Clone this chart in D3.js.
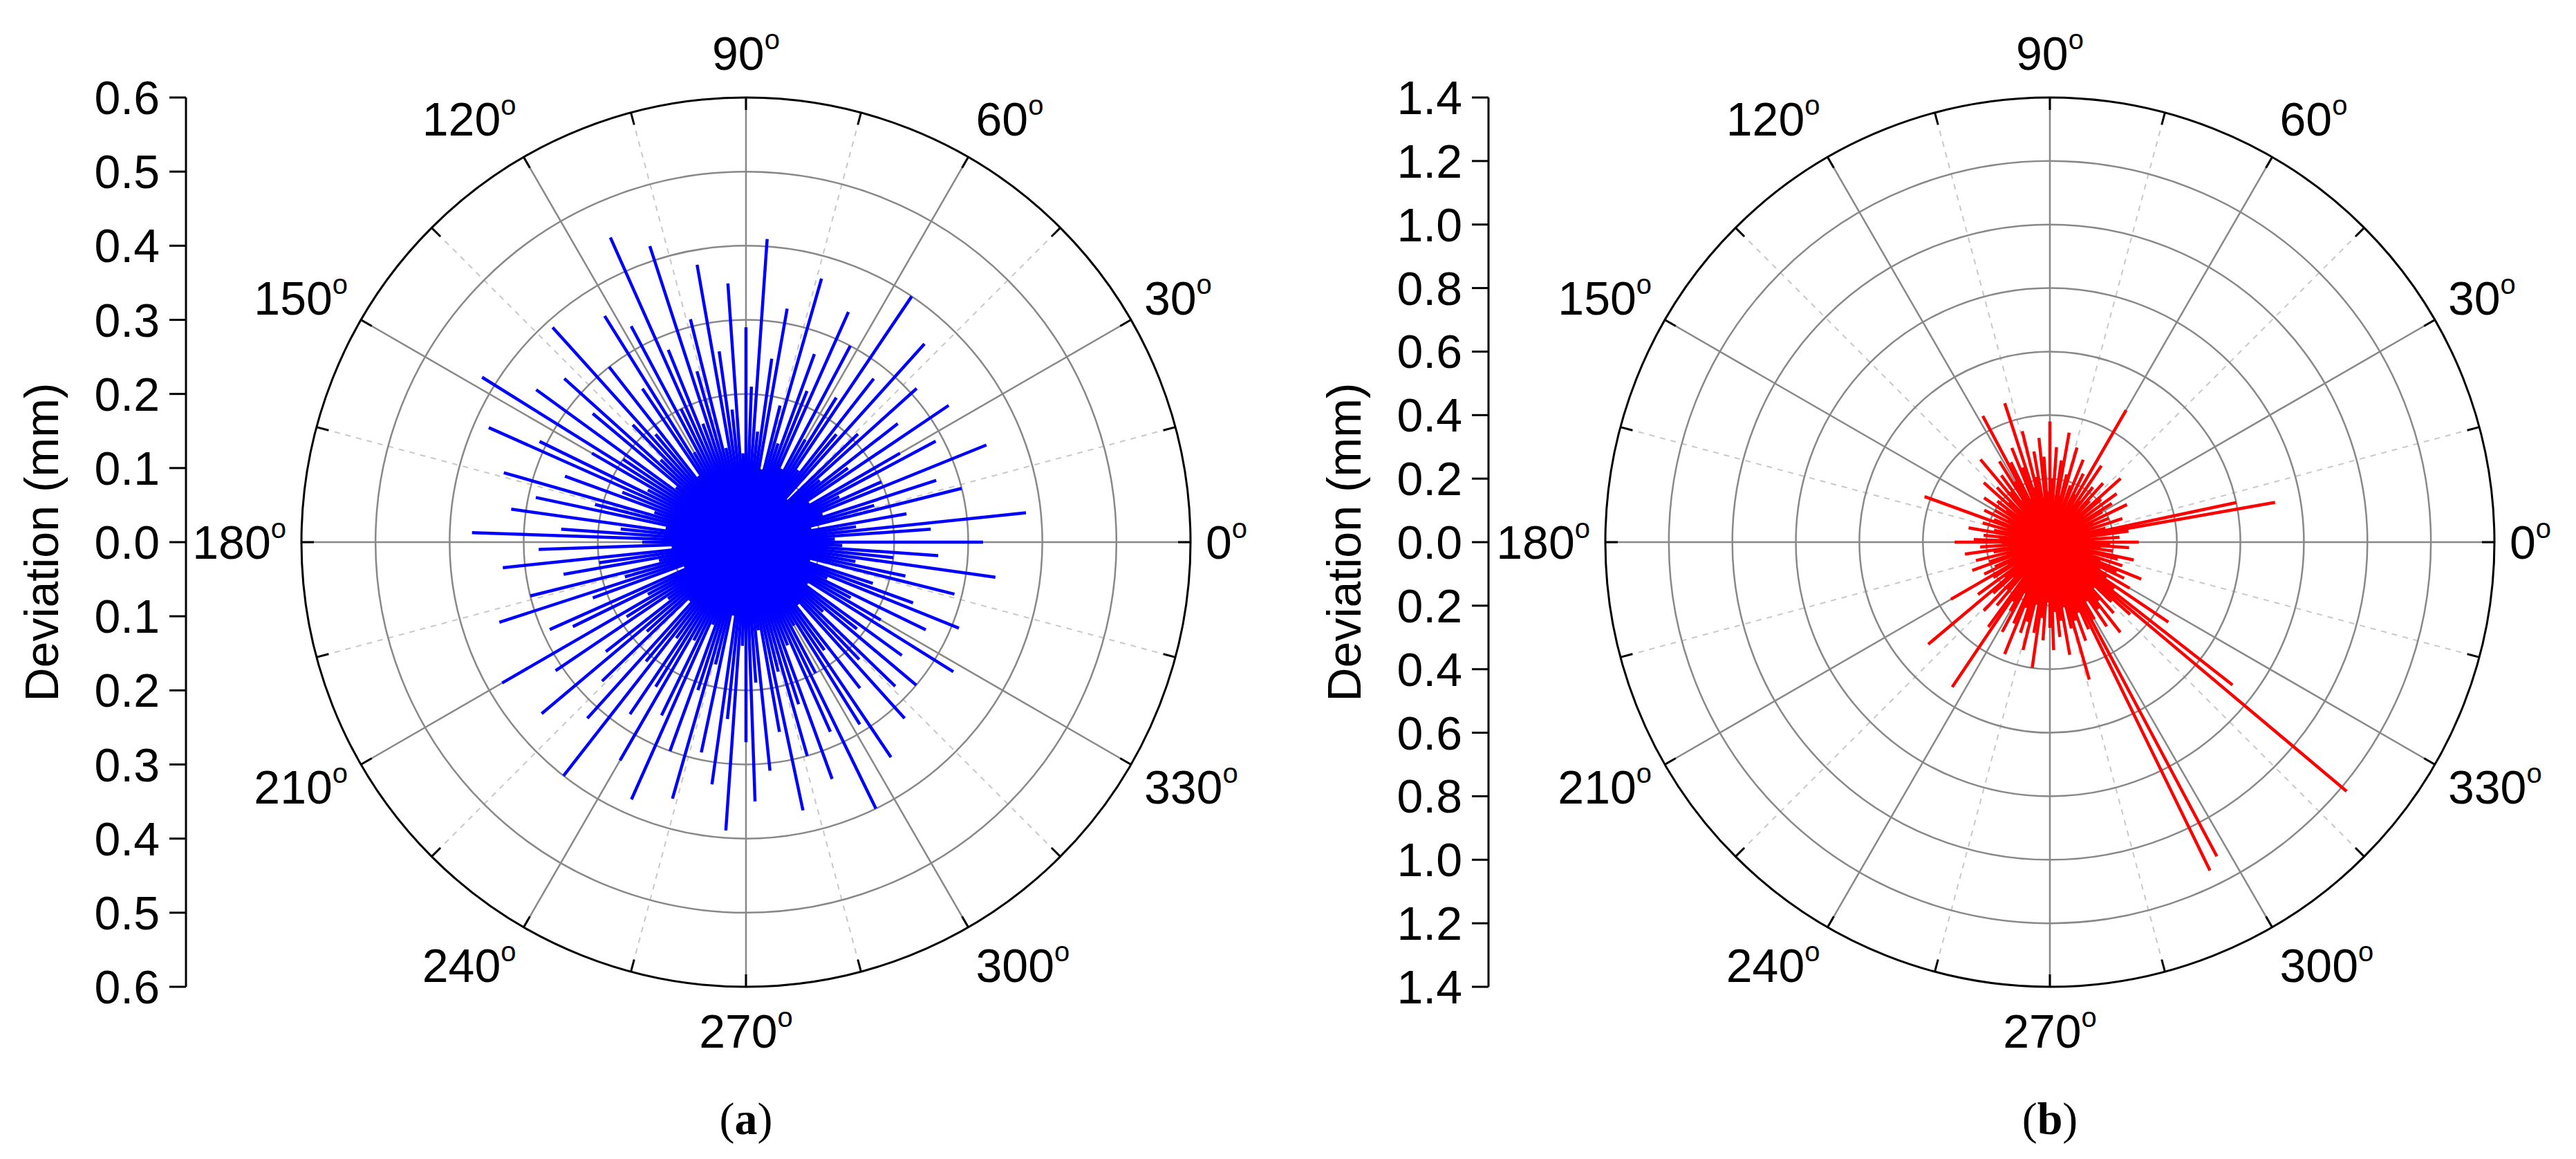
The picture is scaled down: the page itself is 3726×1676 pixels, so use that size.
<!DOCTYPE html>
<html><head><meta charset="utf-8">
<script src="https://cdn.jsdelivr.net/npm/d3@7"></script>
<style>body{margin:0;background:#fff}</style></head>
<body><svg id="c" width="3726" height="1676"></svg>
<script>
const angleLabels=[0,30,60,90,120,150,180,210,240,270,300,330];
const ticksA=[0.6,0.5,0.4,0.3,0.2,0.1,0.0,0.1,0.2,0.3,0.4,0.5,0.6];
const ticksB=[1.4,1.2,1.0,0.8,0.6,0.4,0.2,0.0,0.2,0.4,0.6,0.8,1.0,1.2,1.4];
const anglesDeg=d3.range(0,360,2);
const devA=[.32,.12,.25,.38,.15,.22,.09,.30,.18,.27,.11,.35,.20,.14,.29,.24,.10,.33,.17,.26,.13,.31,.21,.08,.36,.19,.28,.12,.40,.23,
.16,.30,.11,.34,.22,.27,.14,.37,.19,.10,.32,.25,.15,.41,.21,.29,.12,.35,.18,.26,.38,.13,.31,.24,.42,.17,.28,.45,.20,.33,
.14,.36,.25,.11,.30,.19,.39,.22,.16,.33,.27,.12,.35,.20,.42,.24,.15,.31,.38,.18,.26,.13,.34,.21,.29,.11,.32,.17,.25,.37,
.14,.28,.10,.33,.20,.25,.12,.30,.17,.35,.22,.09,.29,.26,.15,.38,.19,.31,.13,.24,.36,.18,.27,.11,.32,.21,.40,.16,.28,.23,
.34,.15,.26,.38,.12,.30,.21,.36,.17,.29,.10,.33,.24,.39,.14,.27,.35,.19,.31,.12,.26,.37,.18,.30,.23,.34,.15,.28,.40,.20,
.13,.29,.35,.18,.25,.11,.32,.22,.28,.14,.30,.19,.26,.10,.33,.21,.16,.27,.12,.31,.24,.18,.09,.29,.22,.15,.34,.20,.26,.13];
const devB=[.28,.14,.22,.10,.25,.72,.60,.18,.12,.24,.09,.20,.15,.27,.11,.19,.23,.08,.26,.13,.21,.30,.12,.18,.25,.10,.22,.16,.29,.14,
.48,.17,.24,.11,.28,.19,.13,.31,.22,.15,.35,.26,.12,.30,.20,.38,.16,.27,.33,.14,.29,.21,.36,.18,.46,.25,.32,.15,.28,.45,
.22,.30,.16,.26,.20,.34,.13,.24,.18,.28,.12,.21,.17,.25,.11,.20,.15,.23,.10,.19,.42,.14,.22,.12,.18,.26,.13,.21,.16,.24,
.30,.15,.22,.12,.27,.18,.10,.24,.14,.20,.26,.11,.19,.23,.15,.36,.21,.13,.28,.18,.50,.24,.16,.30,.20,.26,.14,.33,.55,.22,
.25,.32,.18,.28,.38,.22,.30,.26,.35,.20,.29,.40,.24,.31,.19,.27,.34,.22,.30,.25,.36,.21,.28,.45,.26,.33,.24,.30,1.15,1.12,
.28,.22,.32,.26,.36,.24,.30,.20,.27,.34,1.22,.73,.25,.45,.21,.29,.18,.26,.23,.31,.17,.24,.14,.22,.27,.12,.20,.16,.25,.19];

const svg=d3.select("#c");
const FONT="Arial, 'Liberation Sans', sans-serif";
const R=643, CY=784;

function panel(cx,axisX,max,step,ticks,data,color,caption){
  const g=svg.append("g");
  const r=d3.scaleLinear().domain([0,max]).range([0,R]);
  const toXY=(deg,v)=>[cx+r(v)*Math.cos(deg*Math.PI/180), CY-r(v)*Math.sin(deg*Math.PI/180)];
  d3.range(15,360,30).forEach(a=>{
    const p=toXY(a,max);
    g.append("line").attr("x1",cx).attr("y1",CY).attr("x2",p[0]).attr("y2",p[1])
     .attr("stroke","#c8c8c8").attr("stroke-width",2).attr("stroke-dasharray","8,8");
  });
  d3.range(0,360,30).forEach(a=>{
    const p=toXY(a,max);
    g.append("line").attr("x1",cx).attr("y1",CY).attr("x2",p[0]).attr("y2",p[1])
     .attr("stroke","#888").attr("stroke-width",2.5);
  });
  d3.range(step,max-1e-9,step).forEach(v=>{
    g.append("circle").attr("cx",cx).attr("cy",CY).attr("r",r(v))
     .attr("fill","none").attr("stroke","#888").attr("stroke-width",2.5);
  });
  g.append("circle").attr("cx",cx).attr("cy",CY).attr("r",r(max))
   .attr("fill","none").attr("stroke","#000").attr("stroke-width",3);
  d3.range(0,360,15).forEach(a=>{
    const p1=toXY(a,max), p2=toXY(a,max*(1-18/R));
    g.append("line").attr("x1",p1[0]).attr("y1",p1[1]).attr("x2",p2[0]).attr("y2",p2[1])
     .attr("stroke","#000").attr("stroke-width",3);
  });
  g.append("g").selectAll("line").data(data).join("line")
   .attr("x1",cx).attr("y1",CY)
   .attr("x2",(d,i)=>toXY(anglesDeg[i],d)[0]).attr("y2",(d,i)=>toXY(anglesDeg[i],d)[1])
   .attr("stroke",color).attr("stroke-width",4.5).attr("stroke-linecap","butt");
  angleLabels.forEach(a=>{
    const c=Math.cos(a*Math.PI/180), s=Math.sin(a*Math.PI/180);
    const p=toXY(a,max*(1+22/R));
    const anchor=c>0.3?"start":(c<-0.3?"end":"middle");
    const dy=24 - s*42;
    const t=g.append("text").attr("x",p[0]).attr("y",p[1]+dy).attr("text-anchor",anchor)
     .attr("font-family",FONT).attr("font-size",68).text(a);
    t.append("tspan").attr("font-size",40).attr("dy",-30).text("o");
  });
  const y=d3.scaleLinear().domain([0,ticks.length-1]).range([CY-R,CY+R]);
  const ax=g.append("g");
  ax.append("line").attr("x1",axisX).attr("x2",axisX).attr("y1",CY-R).attr("y2",CY+R).attr("stroke","#000").attr("stroke-width",3);
  ticks.forEach((t,i)=>{
    ax.append("line").attr("x1",axisX-24).attr("x2",axisX).attr("y1",y(i)).attr("y2",y(i)).attr("stroke","#000").attr("stroke-width",3);
    ax.append("text").attr("x",axisX-38).attr("y",y(i)+24).attr("text-anchor","end")
      .attr("font-family",FONT).attr("font-size",68).text(t.toFixed(1));
  });
  g.append("text").attr("transform",`translate(${axisX-185},${CY}) rotate(-90)`).attr("text-anchor","middle")
   .attr("font-family",FONT).attr("font-size",68).text("Deviation (mm)");
  const cap=g.append("text").attr("x",cx).attr("y",1640).attr("text-anchor","middle")
   .attr("font-family","'Liberation Serif','DejaVu Serif',serif").attr("font-size",66);
  cap.append("tspan").text("(");
  cap.append("tspan").attr("font-weight","bold").text(caption);
  cap.append("tspan").text(")");
}
panel(1079,269,0.6,0.1,ticksA,devA,"#0000ff","a");
panel(2965,2153,1.4,0.2,ticksB,devB,"#ff0000","b");
</script></body></html>
